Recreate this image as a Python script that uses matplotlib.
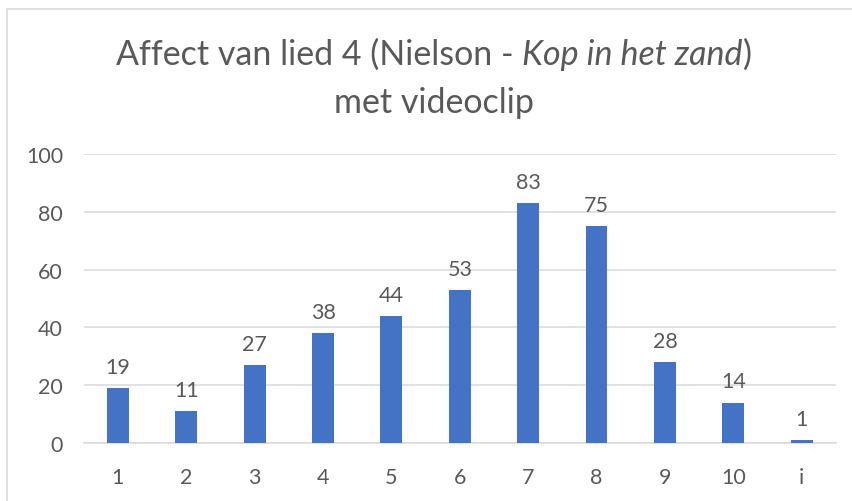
import matplotlib
matplotlib.use("Agg")
import matplotlib.pyplot as plt
from matplotlib.patches import Rectangle

categories = ["1", "2", "3", "4", "5", "6", "7", "8", "9", "10", "i"]
values = [19, 11, 27, 38, 44, 53, 83, 75, 28, 14, 1]
yticks = [0, 20, 40, 60, 80, 100]

W, H = 853, 502
fig = plt.figure(figsize=(W / 100, H / 100), dpi=100)
FONT = "Lato"
TXT = "#595959"
LS = 15.5

# outer chart border
fig.patches.append(Rectangle((7 / W, -0.1), 1.2, 1.1 - 10 / H, transform=fig.transFigure,
                             fill=False, edgecolor="#d9d9d9", linewidth=1.2))

ax = fig.add_axes([83.8 / W, 1 - 444 / H, 752 / W, (444 - 155) / H])
x = list(range(len(categories)))
ax.bar(x, values, width=0.32, color="#4472C4", zorder=3)
ax.set_xlim(-0.5, len(categories) - 0.5)
ax.set_ylim(0, 100)
ax.set_yticks(yticks)
ax.set_xticks(x)
ax.set_xticklabels(categories)
ax.grid(axis="y", color="#d9d9d9", linewidth=1.1, zorder=0)
for s in ["top", "right", "left"]:
    ax.spines[s].set_visible(False)
ax.spines["bottom"].set_color("#d9d9d9")
ax.spines["bottom"].set_linewidth(1.1)
ax.tick_params(length=0, labelsize=LS, labelcolor=TXT)
ax.tick_params(axis="x", pad=17)
ax.tick_params(axis="y", pad=15)
for lab in ax.get_xticklabels() + ax.get_yticklabels():
    lab.set_fontfamily(FONT)
ax.set_facecolor("none")

for xi, v in zip(x, values):
    ax.annotate(str(v), (xi, v), xytext=(0, 8), textcoords="offset points",
                ha="center", va="bottom", fontsize=LS, color=TXT, family=FONT)

# title with italic part
parts = [("Affect van lied 4 (Nielson - ", "normal"), ("Kop in het zand", "italic"), (")", "normal")]
fs = 24.5
y1 = 1 - 55 / H
texts = []
for s, st in parts:
    t = fig.text(0, y1, s, fontsize=fs, style=st, color=TXT, family=FONT, va="center", ha="left")
    texts.append(t)
fig.canvas.draw()
r = fig.canvas.get_renderer()
widths = [t.get_window_extent(r).width for t in texts]
total = sum(widths)
cx = 434
start = cx - total / 2
for t, w in zip(texts, widths):
    t.set_x(start / W)
    start += w
fig.text(cx / W, 1 - 103 / H, "met videoclip", fontsize=fs, color=TXT, family=FONT, va="center", ha="center")

fig.savefig("out.png", dpi=100)
